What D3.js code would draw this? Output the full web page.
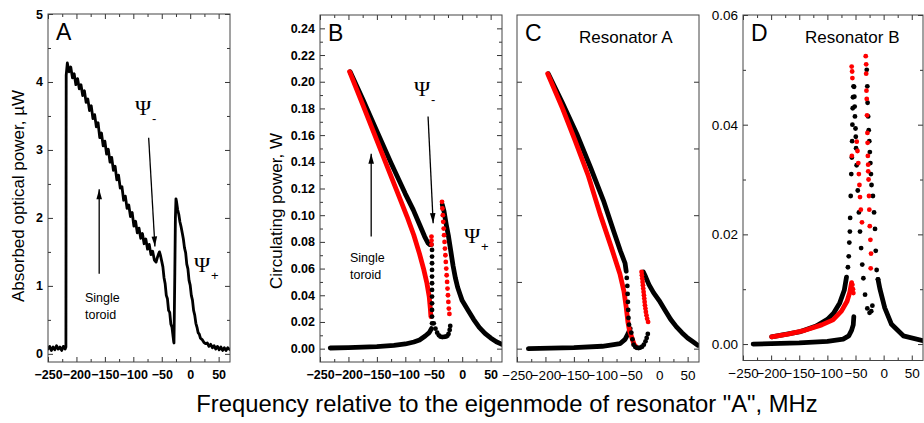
<!DOCTYPE html>
<html>
<head>
<meta charset="utf-8">
<script src="https://cdn.jsdelivr.net/npm/d3@7/dist/d3.min.js"></script>
<style>
  body { margin: 0; background: #fff; }
  svg { display: block; font-family: Arial, "Liberation Sans", sans-serif; }
  .bold-ticks .tick text { font-weight: bold; }
</style>
</head>
<body>
<svg id="chart" width="924" height="423"></svg>
<script>
// ---- tick values ----
const xMajor = [-250, -200, -150, -100, -50, 0, 50];
const xMinor = [-225, -175, -125, -75, -25, 25];
const aMajor = [0, 1, 2, 3, 4, 5];
const aMinor = [0.5, 1.5, 2.5, 3.5, 4.5];
const bMajor = [0, 0.02, 0.04, 0.06, 0.08, 0.10, 0.12, 0.14, 0.16, 0.18, 0.20, 0.22, 0.24];
const bMinor = [0.01, 0.03, 0.05, 0.07, 0.09, 0.11, 0.13, 0.15, 0.17, 0.19, 0.21, 0.23];
const cMajor = [0, 0.05, 0.10, 0.15, 0.20];
const dMajor = [0, 0.02, 0.04, 0.06];
const dMinor = [0.01, 0.03, 0.05];

// ---- panel A: measured absorbed power (uW) ----
const aTrace = [
  [-250,0.07],[-247,0.11],[-244,0.05],[-241,0.10],[-238,0.06],[-235,0.12],[-232,0.07],[-229,0.10],
  [-226,0.05],[-223,0.11],[-220,0.07],[-218.5,0.10],[-218,4.10],[-216,4.28],[-213,4.15],[-210,4.22],
  [-207,4.06],[-204,4.12],[-201,3.96],[-198,4.05],[-195,3.90],[-192,3.96],[-189,3.80],[-186,3.87],
  [-183,3.70],[-180,3.75],[-177,3.58],[-174,3.65],[-171,3.46],[-168,3.52],[-165,3.34],[-162,3.40],
  [-159,3.18],[-156,3.25],[-153,3.06],[-150,3.13],[-147,2.94],[-144,3.01],[-141,2.82],[-138,2.89],
  [-135,2.70],[-132,2.76],[-129,2.56],[-126,2.63],[-123,2.44],[-120,2.46],[-117,2.26],[-114,2.32],
  [-111,2.14],[-108,2.19],[-105,2.02],[-102,2.08],[-99,1.88],[-96,1.95],[-93,1.78],[-90,1.85],
  [-87,1.70],[-84,1.77],[-81,1.62],[-78,1.69],[-75,1.54],[-72,1.61],[-69,1.46],[-66,1.51],
  [-63,1.38],[-60,1.35],[-58,1.41],[-56,1.46],[-54,1.50],[-52,1.44],[-50,1.36],[-48,1.28],
  [-46,1.12],[-44,1.03],[-42,0.86],[-40,0.81],[-38,0.64],[-36,0.61],[-34,0.44],[-32,0.39],
  [-30,0.25],[-29,0.18],[-28.5,0.16],[-27,1.20],[-26,2.00],[-25,2.28],[-24,2.24],[-22,2.12],
  [-20,2.05],[-18,1.94],[-16,1.87],[-14,1.78],[-12,1.69],[-10,1.56],[-8,1.49],[-6,1.32],
  [-4,1.25],[-2,1.08],[0,1.01],[2,0.86],[4,0.79],[6,0.64],[8,0.57],[10,0.45],[12,0.39],
  [14,0.31],[16,0.29],[18,0.23],[21,0.21],[24,0.17],[27,0.15],[30,0.16],[33,0.11],[36,0.14],
  [39,0.09],[42,0.12],[45,0.07],[48,0.11],[51,0.06],[54,0.10],[57,0.05],[60,0.09],[63,0.05],
  [66,0.09],[70,0.06]
];

// ---- panel B: total circulating power (W) ----
const bBlackUpper = [[-197,0.2075],[-175,0.187],[-150,0.163],[-125,0.139],[-100,0.116],[-86,0.104],
  [-75,0.093],[-66,0.084],[-60,0.079],[-57,0.078],[-54,0.078]];
const bBlackJump = [[-53,0.074],[-53,0.069],[-53,0.064],[-53,0.059],[-53,0.054],[-53,0.049],
  [-53,0.044],[-53,0.039],[-53,0.034],[-53,0.029],[-53,0.024],[-53,0.019]];
const bBlackLower = [[-232,0.0005],[-200,0.0008],[-150,0.0015],[-120,0.0025],[-100,0.0035],
  [-85,0.005],[-75,0.0065],[-65,0.0095],[-58,0.012],[-54,0.015]];
const bBlackDip = [[-50,0.019],[-47,0.015],[-44,0.012],[-41,0.0100],[-38,0.0090],[-35,0.0087],
  [-32,0.0088],[-29,0.0090],[-26,0.0096],[-24,0.011],[-22,0.014],[-21,0.017]];
const bBlackRight = [[-35,0.108],[-32,0.103],[-28,0.093],[-24,0.084],[-20,0.073],[-16,0.062],
  [-12,0.053],[-8,0.046],[-4,0.041],[0,0.036],[10,0.029],[20,0.022],[30,0.016],
  [40,0.0115],[50,0.008],[60,0.0052],[70,0.0032]];
const bRedUpper = [[-198,0.2075],[-175,0.183],[-150,0.156],[-125,0.129],[-110,0.113],[-97,0.099],
  [-85,0.085],[-75,0.071],[-68,0.060],[-62,0.049],[-58,0.039],[-56,0.030],[-55,0.024]];
const bRedJump = [[-54,0.084],[-54,0.081],[-54,0.078]];
const bRedRight = [[-35.5,0.110],[-34.8,0.105],[-34,0.100],[-33.3,0.095],[-32.5,0.090],
  [-31.8,0.085],[-31,0.080],[-30.3,0.075],[-29.5,0.070],[-28.8,0.065],[-28,0.060],[-27.3,0.055],
  [-26.5,0.050],[-25.8,0.045],[-25,0.040],[-24.3,0.035],[-23.5,0.030],[-22.5,0.026]];

// ---- panel C: resonator A (W) ----
const cBlackUpper = [[-195,0.206],[-170,0.184],[-145,0.161],[-120,0.135],[-98,0.111],[-80,0.088],
  [-68,0.073],[-60,0.064],[-58,0.058]];
const cBlackJump = [[-57,0.053],[-56,0.047],[-55.5,0.041],[-55,0.035],[-54.5,0.029],[-54,0.023],
  [-53,0.018]];
const cBlackLower = [[-230,0.0],[-150,0.0008],[-100,0.0018],[-80,0.003],[-69,0.0037],[-60,0.007],
  [-55,0.011],[-51,0.015]];
const cBlackDip = [[-49,0.012],[-47,0.007],[-45,0.003],[-42,0.0012],[-39,0.0006],[-36,0.0005],
  [-33,0.0008],[-30,0.0015],[-27,0.003],[-24,0.0055],[-22,0.008],[-20,0.011]];
const cBlackRight = [[-28,0.0575],[-24,0.054],[-18,0.048],[-10,0.042],[0,0.036],[10,0.029],
  [20,0.022],[30,0.0165],[40,0.012],[50,0.008],[60,0.005],[68,0.0025]];
const cRedUpper = [[-196,0.206],[-170,0.180],[-148,0.156],[-125,0.130],[-104,0.101],[-85,0.077],
  [-69,0.056],[-62,0.043],[-58,0.031],[-55,0.020],[-52,0.013],[-48.4,0.0087],[-44,0.003],
  [-40,0.0012]];
const cRedRight = [[-31,0.0575],[-30.4,0.055],[-29.8,0.0525],[-29.2,0.050],[-28.6,0.0475],
  [-28,0.045],[-27.4,0.0425],[-26.8,0.040],[-26.2,0.0375],[-25.6,0.035],[-25,0.0325],
  [-24.2,0.030],[-23.4,0.0275],[-22.4,0.025],[-21.2,0.0225],[-19.5,0.020]];

// ---- panel D: resonator B (W) ----
const dBlackLower = [[-232,0.0],[-150,0.0002],[-100,0.0005],[-72,0.0009],[-62,0.0015],
  [-57,0.0025],[-54,0.0035],[-53,0.005]];
const dBlackUpper = [[-199,0.0013],[-150,0.0022],[-120,0.0033],[-100,0.0045],[-89,0.0056],
  [-78,0.0075],[-70,0.0098],[-66,0.0122]];
const dBlackLeftPeak = [[-63.5,0.014],[-62,0.016],[-61,0.0185],[-60,0.0205],[-59.5,0.023],
  [-58.5,0.027],[-57.5,0.031],[-56.5,0.034],[-56,0.037],[-55.5,0.040],[-55,0.043],[-54.5,0.045],
  [-53.5,0.047],[-52.5,0.0469],[-52,0.0451],[-51.5,0.0433],[-51,0.0415],[-50,0.0393],
  [-49.5,0.0378],[-49,0.0357],[-48,0.0326],[-46,0.028],[-44,0.024],[-42,0.0205],[-40,0.0175],
  [-38,0.0145],[-36,0.012],[-33,0.009],[-29,0.0065],[-25,0.0057],[-22,0.006],[-20,0.007]];
const dBlackRightPeak = [[-30,0.050],[-29,0.047],[-28.5,0.044],[-27.5,0.0415],[-26.5,0.039],
  [-25.5,0.037],[-24.5,0.035],[-23.5,0.033],[-22.5,0.031],[-21.5,0.029],[-19,0.027],[-17,0.024],
  [-15.3,0.021],[-14,0.017],[-12.4,0.0135],[-10,0.0118]];
const dBlackTail = [[-10,0.0118],[-6.5,0.0100],[2,0.0066],[14,0.0036],[35,0.0015],[70,0.0006]];
const dRedLine = [[-199,0.0013],[-170,0.0018],[-140,0.0025],[-110,0.0035],[-90,0.0044],
  [-75,0.006],[-65,0.0078],[-60,0.0095],[-57,0.0112]];
const dRedHook = [[-55.5,0.0108],[-54.5,0.0100],[-53.8,0.0093]];
const dRedLeftPeak = [[-56.8,0.0506],[-56,0.0497],[-55.5,0.0485],[-56.5,0.0343],[-47.8,0.0369],
  [-46.5,0.0352],[-45,0.0330],[-44,0.0310],[-43,0.0290],[-42,0.0268],[-40.5,0.0245],[-38.5,0.0222]];
const dRedRightPeak = [[-31.8,0.0525],[-31,0.0510],[-31,0.0493],[-30.5,0.0462],[-30,0.0447],
  [-29.5,0.0417],[-28.8,0.0385],[-28.5,0.0367],[-28,0.0343],[-27.5,0.0327],[-27.4,0.0315],
  [-26.8,0.0300],[-26,0.0270],[-25.4,0.0245],[-24.6,0.0215],[-23.5,0.0190],[-22.4,0.0165],
  [-23,0.0138]];

const svg = d3.select('#chart');
const BLACK = '#000', RED = '#ff0000';
const DOT = 2.4;

function drawPanel(p) {
  const x = d3.scaleLinear().domain([-250, 70]).range([p.left, p.right]);
  const y = d3.scaleLinear().domain(p.yDomain).range([p.bottom, p.top]);
  const g = svg.append('g').attr('class', p.bold ? 'bold-ticks' : null);

  const clip = 'clip-' + p.id;
  svg.append('clipPath').attr('id', clip).append('rect')
    .attr('x', p.left).attr('y', p.top).attr('width', p.right - p.left).attr('height', p.bottom - p.top);
  const plot = g.append('g').attr('clip-path', `url(#${clip})`);

  const line = d3.line().x(d => x(d[0])).y(d => y(d[1]));
  (p.lines || []).forEach(s => {
    plot.append('path').datum(s.data).attr('d', line)
      .attr('fill', 'none').attr('stroke', s.color).attr('stroke-width', s.width)
      .attr('stroke-linecap', 'round').attr('stroke-linejoin', 'round');
  });
  (p.dots || []).forEach(s => {
    plot.selectAll(null).data(s.data).join('circle')
      .attr('cx', d => x(d[0])).attr('cy', d => y(d[1])).attr('r', DOT).attr('fill', s.color);
  });

  // axes, ticks pointing inward
  g.append('g').attr('transform', `translate(0,${p.bottom})`)
    .call(d3.axisBottom(x).tickValues(xMajor).tickSize(-5).tickPadding(8).tickFormat(d3.format('d')));
  g.append('g').attr('transform', `translate(0,${p.bottom})`)
    .call(d3.axisBottom(x).tickValues(xMinor).tickSize(-3).tickFormat(''));
  if (p.topTicks) {
    g.append('g').attr('transform', `translate(0,${p.top})`)
      .call(d3.axisTop(x).tickValues(xMajor).tickSize(-5).tickFormat(''));
    g.append('g').attr('transform', `translate(0,${p.top})`)
      .call(d3.axisTop(x).tickValues(xMinor).tickSize(-3).tickFormat(''));
  }
  g.append('g').attr('transform', `translate(${p.left},0)`)
    .call(d3.axisLeft(y).tickValues(p.yMajor).tickSize(-5).tickPadding(p.yLabels ? 5 : 0)
      .tickFormat(p.yLabels ? p.fmt : ''));
  g.append('g').attr('transform', `translate(${p.left},0)`)
    .call(d3.axisLeft(y).tickValues(p.yMinor || []).tickSize(-3).tickFormat(''));
  g.append('g').attr('transform', `translate(${p.right},0)`)
    .call(d3.axisRight(y).tickValues(p.yMajor).tickSize(-5).tickFormat(''));
  g.append('g').attr('transform', `translate(${p.right},0)`)
    .call(d3.axisRight(y).tickValues(p.yMinor || []).tickSize(-3).tickFormat(''));

  g.selectAll('.domain').remove();
  g.selectAll('.tick line').attr('stroke', '#333');
  g.selectAll('.tick text').attr('fill', '#000')
    .attr('font-size', p.bold ? 12.5 : 13.5)
    .attr('font-weight', p.bold ? 700 : 400)
    .attr('font-family', '"Liberation Sans", Arial, sans-serif');

  g.append('rect').attr('x', p.left).attr('y', p.top)
    .attr('width', p.right - p.left).attr('height', p.bottom - p.top)
    .attr('fill', 'none').attr('stroke', '#444').attr('stroke-width', 1);

  g.append('text').attr('x', p.left + 8).attr('y', p.top + 26)
    .attr('font-size', 23).text(p.id);
  if (p.title) {
    g.append('text').attr('x', p.left + 62).attr('y', p.top + 28)
      .attr('font-size', 17).text(p.title);
  }
  return { x, y, g };
}

const A = drawPanel({
  id: 'A', left: 48, right: 230, top: 14, bottom: 362, yDomain: [-0.12, 5],
  yMajor: aMajor, yMinor: aMinor, yLabels: true, fmt: d3.format('d'), bold: true, topTicks: true,
  lines: [{ data: aTrace, color: BLACK, width: 2.8 }]
});

const B = drawPanel({
  id: 'B', left: 320, right: 502, top: 15, bottom: 362, yDomain: [-0.01, 0.25],
  yMajor: bMajor, yMinor: bMinor, yLabels: true, fmt: d3.format('.2f'), bold: true, topTicks: true,
  lines: [
    { data: bBlackLower, color: BLACK, width: 4.8 },
    { data: bBlackRight, color: BLACK, width: 4.8 },
    { data: bBlackUpper, color: BLACK, width: 4.8 },
    { data: bRedUpper, color: RED, width: 4.8 }
  ],
  dots: [
    { data: bBlackJump, color: BLACK }, { data: bBlackDip, color: BLACK },
    { data: bRedJump, color: RED }, { data: bRedRight, color: RED }
  ]
});

const C = drawPanel({
  id: 'C', title: 'Resonator A', left: 517, right: 699, top: 15, bottom: 362, yDomain: [-0.01, 0.25],
  yMajor: cMajor, yLabels: false, bold: false, topTicks: false,
  lines: [
    { data: cBlackLower, color: BLACK, width: 4.8 },
    { data: cBlackRight, color: BLACK, width: 4.8 },
    { data: cBlackUpper, color: BLACK, width: 4.8 },
    { data: cRedUpper, color: RED, width: 4.8 }
  ],
  dots: [
    { data: cBlackJump, color: BLACK }, { data: cBlackDip, color: BLACK },
    { data: cRedRight, color: RED }
  ]
});

const D = drawPanel({
  id: 'D', title: 'Resonator B', left: 743, right: 923, top: 15, bottom: 360.5, yDomain: [-0.003, 0.06],
  yMajor: dMajor, yMinor: dMinor, yLabels: true, fmt: d3.format('.2f'), bold: false, topTicks: true,
  lines: [
    { data: dBlackLower, color: BLACK, width: 4.8 },
    { data: dBlackUpper, color: BLACK, width: 4.8 },
    { data: dBlackTail, color: BLACK, width: 4.8 },
    { data: dRedLine, color: RED, width: 4.8 }
  ],
  dots: [
    { data: dBlackLeftPeak, color: BLACK }, { data: dBlackRightPeak, color: BLACK },
    { data: dRedHook, color: RED }, { data: dRedLeftPeak, color: RED }, { data: dRedRightPeak, color: RED }
  ]
});

// ---- axis titles ----
svg.append('text').attr('transform', 'translate(23.5,196) rotate(-90)')
  .attr('text-anchor', 'middle').attr('font-size', 17).text('Absorbed optical power, \u00b5W');
svg.append('text').attr('transform', 'translate(282,211) rotate(-90)')
  .attr('text-anchor', 'middle').attr('font-size', 17).text('Circulating power, W');
svg.append('text').attr('x', 507).attr('y', 412)
  .attr('text-anchor', 'middle').attr('font-size', 23.8)
  .text('Frequency relative to the eigenmode of resonator "A", MHz');

// ---- annotations ----
function arrow(g, x1, y1, x2, y2) {
  g.append('line').attr('x1', x1).attr('y1', y1).attr('x2', x2).attr('y2', y2)
    .attr('stroke', '#000').attr('stroke-width', 1.3);
  const ang = Math.atan2(y2 - y1, x2 - x1);
  const L = 10, W = 2.8;
  const bx = x2 - L * Math.cos(ang), by = y2 - L * Math.sin(ang);
  const px = -Math.sin(ang) * W, py = Math.cos(ang) * W;
  g.append('path').attr('d', `M${x2},${y2}L${bx + px},${by + py}L${bx - px},${by - py}Z`).attr('fill', '#000');
}
function psi(g, x, y, sub) {
  g.append('text').attr('x', x).attr('y', y).attr('font-family', '"Liberation Serif", "DejaVu Serif", serif')
    .attr('font-size', 22).text('\u03a8');
  g.append('text').attr('x', x + 17).attr('y', y + 8).attr('font-size', 13).text(sub);
}
function toroid(g, x, y) {
  g.append('text').attr('x', x).attr('y', y).attr('font-size', 12.5).text('Single');
  g.append('text').attr('x', x).attr('y', y + 17).attr('font-size', 12.5).text('toroid');
}

arrow(A.g, A.x(-160), A.y(1.18), A.x(-160), A.y(2.42));
arrow(A.g, A.x(-73), A.y(3.18), A.x(-62), A.y(1.58));
psi(A.g, 135, 115, '-');
psi(A.g, 194, 272, '+');
toroid(A.g, 85, 302);

arrow(B.g, B.x(-160), B.y(0.084), B.x(-160), B.y(0.146));
arrow(B.g, B.x(-60), B.y(0.174), B.x(-51), B.y(0.094));
psi(B.g, 414, 96, '-');
psi(B.g, 464, 243, '+');
toroid(B.g, 350, 262);
</script>
</body>
</html>
